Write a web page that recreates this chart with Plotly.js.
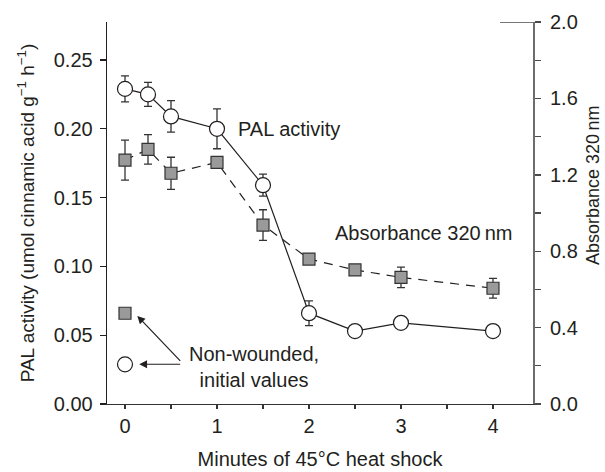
<!DOCTYPE html>
<html>
<head>
<meta charset="utf-8">
<script src="https://cdn.plot.ly/plotly-3.0.1.min.js"></script>
<style>html,body{margin:0;padding:0;background:#fff;}#chart{width:605px;height:472px;}</style>
</head>
<body>
<div id="chart"></div>
<script>
// Minutes of 45 °C heat shock
const minutes = [0, 0.25, 0.5, 1, 1.5, 2, 2.5, 3, 4];
// PAL activity (umol cinnamic acid g-1 h-1)
const palActivity = [0.229, 0.225, 0.209, 0.200, 0.159, 0.066, 0.053, 0.059, 0.053];
const palError    = [0.0095, 0.0087, 0.0114, 0.0145, 0.008, 0.009, 0, 0, 0];
// Absorbance 320 nm
const absorbance = [1.277, 1.333, 1.208, 1.265, 0.937, 0.759, 0.702, 0.663, 0.606];
const absError   = [0.105, 0.077, 0.084, 0, 0.080, 0, 0, 0.054, 0.052];
// Non-wounded initial values
const initialMinute = [0];
const initialPAL = [0.0288];
const initialAbs = [0.475];

const xTickVals = [0, 0.5, 1, 1.5, 2, 2.5, 3, 3.5, 4];
const xTickText = ['0', ' ', '1', ' ', '2', ' ', '3', ' ', '4'];
const yTickVals = [0, 0.05, 0.10, 0.15, 0.20, 0.25];
const yTickText = ['0.00', '0.05', '0.10', '0.15', '0.20', '0.25'];
const y2TickVals = [0, 0.2, 0.4, 0.6, 0.8, 1.0, 1.2, 1.4, 1.6, 1.8, 2.0];
const y2TickText = ['0.0', ' ', '0.4', ' ', '0.8', ' ', '1.2', ' ', '1.6', ' ', '2.0'];

const FONT = 'Liberation Sans, Arial, Helvetica, sans-serif';
const TXT = '#231f20';
const FS = 20;

const traces = [
  {
    x: minutes, y: absorbance, yaxis: 'y2', type: 'scatter', mode: 'lines+markers',
    line: {color: '#231f20', width: 1.2, dash: '9px,7px'},
    marker: {symbol: 'square', size: 12, color: '#9a9a9a', line: {color: '#333', width: 1.2}},
    error_y: {type: 'data', array: absError, visible: true, color: '#333', thickness: 1.3, width: 4},
    showlegend: false, cliponaxis: false
  },
  {
    x: minutes, y: palActivity, yaxis: 'y', type: 'scatter', mode: 'lines+markers',
    line: {color: '#231f20', width: 1.2},
    marker: {symbol: 'circle', size: 15, color: '#ffffff', line: {color: '#231f20', width: 1.2}},
    error_y: {type: 'data', array: palError, visible: true, color: '#333', thickness: 1.3, width: 4},
    showlegend: false, cliponaxis: false
  },
  {
    x: initialMinute, y: initialAbs, yaxis: 'y2', type: 'scatter', mode: 'markers',
    marker: {symbol: 'square', size: 12, color: '#9a9a9a', line: {color: '#333', width: 1.2}},
    showlegend: false, cliponaxis: false
  },
  {
    x: initialMinute, y: initialPAL, yaxis: 'y', type: 'scatter', mode: 'markers',
    marker: {symbol: 'circle', size: 15, color: '#ffffff', line: {color: '#231f20', width: 1.2}},
    showlegend: false, cliponaxis: false
  }
];

const leftRange = [0, 0.2776];
const rightRange = [0, 2.0];

const layout = {
  width: 605, height: 472,
  margin: {l: 107, r: 72, t: 22, b: 68},
  paper_bgcolor: '#ffffff', plot_bgcolor: '#ffffff',
  font: {family: FONT, size: FS, color: TXT},
  showlegend: false,
  xaxis: {
    range: [-0.1957, 4.435], tickvals: xTickVals, ticktext: xTickText,
    showgrid: false, zeroline: false, showline: true, linecolor: '#333', linewidth: 1.3,
    ticks: 'outside', ticklen: 4, tickcolor: '#333', tickwidth: 1.2,
    tickfont: {family: FONT, size: FS, color: TXT},
    title: {text: 'Minutes of 45°C heat shock', font: {family: FONT, size: FS, color: TXT}, standoff: 15}
  },
  yaxis: {
    range: leftRange, tickvals: yTickVals, ticktext: yTickText,
    showgrid: false, zeroline: false, showline: true, linecolor: '#231f20', linewidth: 1.3,
    ticks: 'outside', ticklen: 6, tickcolor: '#231f20', tickwidth: 1.2,
    ticklabelstandoff: 3,
    tickfont: {family: FONT, size: FS, color: TXT},
    title: {text: 'PAL activity (umol cinnamic acid g<sup>−1</sup> h<sup>−1</sup>)', font: {family: FONT, size: 19, color: TXT}, standoff: 14}
  },
  yaxis3: {
    range: leftRange, tickvals: yTickVals, overlaying: 'y', side: 'left',
    showticklabels: false, showgrid: false, zeroline: false, showline: false,
    ticks: 'inside', ticklen: 6, tickcolor: '#231f20', tickwidth: 1.2
  },
  yaxis2: {
    range: rightRange, tickvals: y2TickVals, ticktext: y2TickText, overlaying: 'y', side: 'right',
    showgrid: false, zeroline: false, showline: true, linecolor: '#6d6d6d', linewidth: 2,
    ticks: 'outside', ticklen: 6, tickcolor: '#4a4a4a', tickwidth: 1.4,
    ticklabelstandoff: 5,
    tickfont: {family: FONT, size: FS, color: TXT}
  },
  yaxis4: {
    range: rightRange, tickvals: y2TickVals, overlaying: 'y', side: 'right',
    showticklabels: false, showgrid: false, zeroline: false, showline: false,
    ticks: 'inside', ticklen: 6, tickcolor: '#4a4a4a', tickwidth: 1.4
  },
  shapes: [
    {type: 'line', xref: 'paper', yref: 'y2', x0: 0.9225, x1: 1, y0: 2.0, y1: 2.0,
     line: {color: '#4a4a4a', width: 1.4}}
  ],
  annotations: [
    {text: 'PAL activity', xref: 'x', yref: 'y', x: 1.21, y: 0.2, xanchor: 'left', yanchor: 'middle',
     showarrow: false, font: {family: FONT, size: FS, color: TXT}},
    {text: 'Absorbance 320\u2009nm', xref: 'x', yref: 'y2', x: 2.26, y: 0.895, xanchor: 'left', yanchor: 'middle',
     showarrow: false, font: {family: FONT, size: FS, color: TXT}},
    {text: 'Non-wounded,<br>initial values', xref: 'x', yref: 'y', x: 1.40, y: 0.027, xanchor: 'center', yanchor: 'middle',
     align: 'center', showarrow: false, font: {family: FONT, size: FS, color: TXT}},
    {text: '', xref: 'x', yref: 'y', x: 0.134, y: 0.064, axref: 'x', ayref: 'y', ax: 0.616, ay: 0.0303,
     showarrow: true, arrowhead: 2, arrowsize: 1.3, arrowwidth: 1.2, arrowcolor: '#231f20'},
    {text: '', xref: 'x', yref: 'y', x: 0.155, y: 0.0289, axref: 'x', ayref: 'y', ax: 0.616, ay: 0.0289,
     showarrow: true, arrowhead: 2, arrowsize: 1.3, arrowwidth: 1.2, arrowcolor: '#231f20'},
    {text: 'Absorbance 320\u2009nm', xref: 'paper', yref: 'paper', x: 1.1408, y: 0.573, textangle: -90,
     xanchor: 'center', yanchor: 'middle', showarrow: false, font: {family: FONT, size: 18, color: TXT}}
  ]
};

Plotly.newPlot('chart', traces, layout, {displayModeBar: false, staticPlot: true});
</script>
</body>
</html>
